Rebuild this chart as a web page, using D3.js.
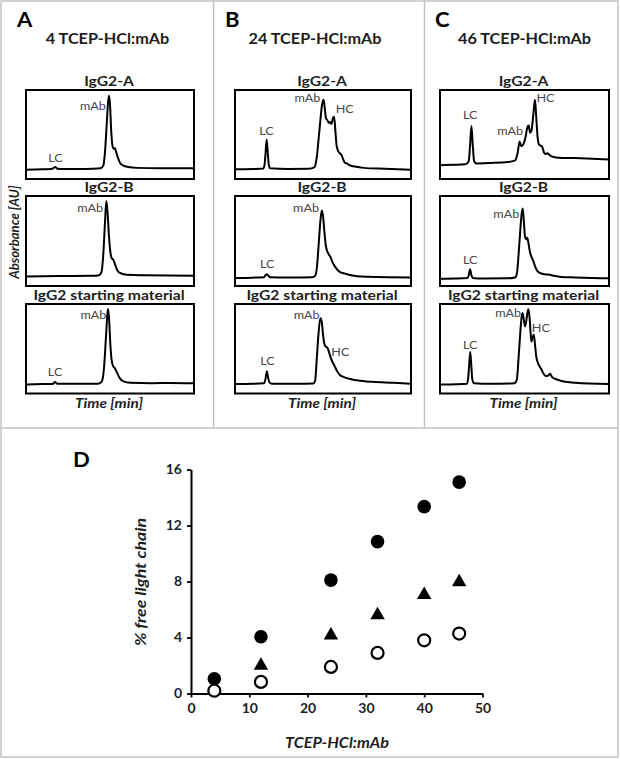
<!DOCTYPE html>
<html><head><meta charset="utf-8">
<script src="https://cdn.jsdelivr.net/npm/d3@7"></script>
<style>
body{margin:0;background:#fff}
svg{display:block}
text{font-family:Lato,"Open Sans",sans-serif}
</style></head>
<body><svg id="fig" width="620" height="759"></svg>
<script>
// ---------- DATA ----------
const panelLetters = ["A", "B", "C"];
const ratios = [4, 24, 46];
const sampleNames = ["IgG2-A", "IgG2-B", "IgG2 starting material"];

// chromatogram traces: [time (% of window), absorbance (% of window)]
const chrom4A = [[0,10.5],[10,11],[15,11.2],[16.5,12.5],[17.5,13.5],[18.5,11.8],[20,11.3],[30,11.3],[40,11.5],[44.5,12],[46,15],[47,30],[48,60],[48.8,85],[49.4,93.5],[50,84],[50.7,55],[51.4,38],[52.2,34],[53,34.5],[53.7,30],[54.7,24],[56,18],[58,15],[61,13.5],[66,12.5],[80,12],[100,12]];
const chrom4B = [[0,10.5],[20,11],[40,11.3],[43.5,12],[45,16],[46,35],[47,70],[47.8,94.5],[48.6,80],[49.4,55],[50.2,38],[51,31],[52,29],[53,24],[54.5,17],[56.5,14],[60,12.5],[70,12],[100,11.5]];
const chrom4SM = [[0,10],[10,10.5],[16,10.7],[17.3,12.8],[18.5,11],[30,10.8],[43,11],[45,13],[46.5,30],[47.5,60],[48.3,85],[48.8,94.5],[49.4,85],[50.2,55],[51,37],[52,30],[52.8,28.5],[54,24],[55.7,17.5],[58,13.5],[62,12],[75,11.5],[86,11.8],[100,11.5]];
const chrom24A = [[0,11],[10,11.3],[16,11.8],[16.8,16],[17.4,30],[18,44.5],[18.6,30],[19.2,16],[20,12],[30,11.3],[42,11.5],[45,13],[46.5,25],[47.5,45],[48.5,66],[49.5,84],[50.3,89],[51,80],[51.7,68],[52.5,66],[53.3,63],[54,64],[54.8,62],[55.6,68],[56.3,70],[57,55],[57.7,38],[58.5,32],[59.5,29],[60.5,27],[61.5,22],[62.5,18],[63.5,17.5],[65,15.5],[68,14],[73,12.5],[85,11.5],[100,10.5]];
const chrom24B = [[0,9],[10,9.3],[16.5,9.8],[17.3,12],[18.1,13],[18.9,11.5],[20,9.8],[30,9.5],[44,9.8],[45.5,11],[46.5,20],[47.5,45],[48.5,72],[49.3,84],[50,78],[50.8,60],[51.6,45],[52.4,38.5],[53.3,35],[54.3,32],[55.5,26],[57,21],[59,16.5],[62,14],[66,12],[72,10.5],[100,9.5]];
const chrom24SM = [[0,10.5],[10,10.8],[16.5,11.5],[17.3,16],[18.1,25],[18.9,17],[19.7,12],[21,11],[35,10.8],[44.5,11.2],[45.5,14],[46.5,40],[47.5,68],[48.5,84],[49.3,80],[50,66],[50.6,57],[51.3,53],[52,52],[52.8,50],[53.6,45],[54.4,40],[55.2,36],[56,33],[57,29],[58,25],[59.5,21],[61,19],[63,17.5],[66,16],[70,14.5],[78,13],[90,12],[100,11]];
const chrom46A = [[0,15.5],[8,16],[15,16.5],[17,20],[17.8,38],[18.6,59.5],[19.4,38],[20.2,20],[21.5,17.5],[30,18],[40,19],[44.5,21],[46,30],[47.1,42],[48,37],[49,38],[50.5,46],[51.7,58],[52.5,60],[53.3,52],[54.2,55],[55.2,72],[56.2,89],[57,68],[57.7,48],[58.5,39],[59.5,37.5],[60.5,36],[61.5,30],[62.5,28],[63.5,29],[64.5,27.5],[66,25.5],[70,24],[80,23.5],[100,22]];
const chrom46B = [[0,8],[10,8.2],[16.2,8.8],[17,12],[17.8,18.5],[18.6,12],[19.4,9],[25,8.3],[40,8.5],[44.5,9.5],[45.5,14],[46.5,35],[47.5,62],[48.3,80],[48.9,86],[49.5,75],[50.3,55],[51,52],[51.6,53.5],[52.3,48],[53.2,38],[54.2,32],[55.2,28],[56.2,22],[57.5,17],[59,14.5],[62,13],[65,12.5],[66,12],[68,11],[72,10],[80,9.5],[100,8.5]];
const chrom46SM = [[0,10],[10,10.3],[16,11],[16.8,20],[17.3,33],[17.9,46.5],[18.5,32],[19.1,16],[20,11.5],[30,10.8],[44,11.5],[45.5,16],[46.5,40],[47.5,68],[48.2,84],[48.8,90],[49.5,84],[50.3,75],[51,80],[51.7,90],[52.3,94],[53,85],[53.6,68],[54.1,58],[54.7,62],[55.5,66],[56.2,55],[57,41],[58,34],[59,30],[60,27],[61,23],[62.5,19.5],[64,20],[65,22],[66.5,18],[68,16.5],[72,14],[80,12],[100,10.5]];

// peak annotations: [label, time, absorbance]
const ann4A = [["LC",17.5,19],["mAb",47.5,77]];
const ann4B = [["mAb",45.9,82.5]];
const ann4SM = [["LC",17.3,19],["mAb",47.8,83.5]];
const ann24A = [["LC",17.9,49.8],["mAb",48.5,86],["HC",57.2,74]];
const ann24B = [["LC",18.3,19.6],["mAb",47.7,82.6]];
const ann24SM = [["LC",18.5,31.5],["mAb",48.1,83.3],["HC",54.7,41.9]];
const ann46A = [["LC",17.9,66.9],["mAb",49.2,48.9],["HC",57.1,86.5]];
const ann46B = [["LC",17.9,24.4],["mAb",46.9,75.2]];
const ann46SM = [["LC",17.9,50],["mAb",48,85.2],["HC",54.3,68.5]];

// panel D
const ratioD = [4, 12, 24, 32, 40, 46];
const freeLC_IgG2A = [1.05, 4.05, 8.1, 10.85, 13.35, 15.1];
const freeLC_IgG2B = [0.45, 2.15, 4.3, 5.75, 7.2, 8.1];
const freeLC_start = [0.2, 0.83, 1.9, 2.9, 3.8, 4.28];
const yTicksD = [0, 4, 8, 12, 16];
const xTicksD = [0, 10, 20, 30, 40, 50];

// ---------- DRAW ----------
const svg = d3.select("#fig");
const gray = "#c3c3c3";
const ink = "#1e1e1e";

// text helper: horizontal stretch sx (the reference lettering is wide)
function label(x, y, str, o) {
  const rot = o.rotate ? ` rotate(${o.rotate})` : "";
  return svg.append("text")
    .attr("transform", `translate(${x},${y})${rot} scale(${o.sx || 1},1)`)
    .attr("text-anchor", o.anchor || "start")
    .attr("font-size", o.size)
    .attr("font-weight", o.weight || "normal")
    .attr("font-style", o.style || "normal")
    .attr("fill", o.fill || ink)
    .text(str);
}

// frame
svg.append("rect").attr("x",1).attr("y",1).attr("width",617).attr("height",756)
  .attr("fill","none").attr("stroke",gray).attr("stroke-width",1.5);
[[213.5,1,213.5,428],[424.5,1,424.5,428],[1,428,618,428]].forEach(l=>{
  svg.append("line").attr("x1",l[0]).attr("y1",l[1]).attr("x2",l[2]).attr("y2",l[3])
    .attr("stroke",gray).attr("stroke-width",1.5);
});

const panels = [
  {traces:[chrom4A, chrom4B, chrom4SM], anns:[ann4A, ann4B, ann4SM]},
  {traces:[chrom24A, chrom24B, chrom24SM], anns:[ann24A, ann24B, ann24SM]},
  {traces:[chrom46A, chrom46B, chrom46SM], anns:[ann46A, ann46B, ann46SM]}
];
const colX = [[26,194],[235,411],[440,609]];
const rowY = [[90,179],[196,286],[304,393.5]];
const letterX = [17, 225, 435];
const titleX = [107.5, 315, 524.5];

const line = d3.line().curve(d3.curveMonotoneX);

panels.forEach((p, pi) => {
  const [x0, x1] = colX[pi];
  const cx = (x0 + x1) / 2;
  label(letterX[pi], 27, panelLetters[pi], {size:21, weight:"bold", fill:"#000", sx:1.05});
  label(titleX[pi], 44, ratios[pi] + " TCEP-HCl:mAb", {size:14.5, weight:"bold", anchor:"middle", sx:1.12});
  p.traces.forEach((tr, ri) => {
    const [y0, y1] = rowY[ri];
    const xs = d3.scaleLinear().domain([0,100]).range([x0, x1]);
    const ys = d3.scaleLinear().domain([0,100]).range([y1, y0]);
    const clipId = "clip" + pi + ri;
    svg.append("clipPath").attr("id", clipId).append("rect")
      .attr("x", x0).attr("y", y0).attr("width", x1-x0).attr("height", y1-y0);
    label(cx - 1, y0 - 4.5, sampleNames[ri], {size:14, weight:"bold", anchor:"middle", sx:1.12});
    svg.append("path").attr("clip-path", `url(#${clipId})`)
      .attr("d", line(tr.map(d => [xs(d[0]), ys(d[1])])))
      .attr("fill","none").attr("stroke","#000").attr("stroke-width",2)
      .attr("stroke-linejoin","round");
    p.anns[ri].forEach(a => {
      label(xs(a[1]), ys(a[2]), a[0], {size:12, fill:"#474747",
        anchor: a[0]==="LC" ? "middle" : a[0]==="mAb" ? "end" : "start", sx:1.05});
    });
    svg.append("rect").attr("x", x0).attr("y", y0).attr("width", x1-x0).attr("height", y1-y0)
      .attr("fill","none").attr("stroke","#000").attr("stroke-width",2);
  });
  label(cx - 1, 407.5, "Time [min]", {size:13, weight:"bold", style:"italic", anchor:"middle", sx:1.18});
});

label(19, 232, "Absorbance [AU]", {size:12.5, weight:"bold", style:"italic", anchor:"middle", rotate:-90, sx:1.05});

// ---------- Panel D ----------
label(73, 467, "D", {size:21, weight:"bold", fill:"#000", sx:1.05});
const xD = d3.scaleLinear().domain([0,50]).range([191, 482.5]);
const yD = d3.scaleLinear().domain([0,16]).range([693.5, 469.5]);

const gy = svg.append("g").attr("transform","translate(191,0)")
  .call(d3.axisLeft(yD).tickValues(yTicksD).tickSize(4).tickSizeOuter(0).tickPadding(5));
const gx = svg.append("g").attr("transform","translate(0,693.5)")
  .call(d3.axisBottom(xD).tickValues(xTicksD).tickSize(4).tickSizeOuter(0).tickPadding(6));
[gx, gy].forEach(g => {
  g.select(".domain").attr("stroke","#000").attr("stroke-width",2);
  g.selectAll(".tick line").attr("stroke","#000").attr("stroke-width",1.8);
  g.selectAll(".tick text").attr("font-size",14).attr("font-weight","bold").attr("fill",ink)
    .attr("font-family","Lato, 'Open Sans', sans-serif");
});

label(146, 582, "% free light chain", {size:15, weight:"bold", style:"italic", anchor:"middle", rotate:-90, sx:1.18});
label(337, 748, "TCEP-HCl:mAb", {size:15, weight:"bold", style:"italic", anchor:"middle", sx:1.08});

const tri = d3.symbol().type(d3.symbolTriangle).size(90);
const triH = Math.sqrt(90 * 4 / Math.sqrt(3)) * Math.sqrt(3) / 2;
svg.append("g").selectAll("path").data(ratioD.map((r,i)=>[r, freeLC_IgG2B[i]])).join("path")
  .attr("d", tri).attr("fill","#000")
  .attr("transform", d => `translate(${xD(d[0])},${yD(d[1]) + triH/6})`);
svg.append("g").selectAll("circle").data(ratioD.map((r,i)=>[r, freeLC_IgG2A[i]])).join("circle")
  .attr("cx", d => xD(d[0])).attr("cy", d => yD(d[1])).attr("r", 6.8).attr("fill","#000");
svg.append("g").selectAll("circle").data(ratioD.map((r,i)=>[r, freeLC_start[i]])).join("circle")
  .attr("cx", d => xD(d[0])).attr("cy", d => yD(d[1])).attr("r", 6).attr("fill","#fff")
  .attr("stroke","#000").attr("stroke-width",2.2);
</script>
</body></html>
